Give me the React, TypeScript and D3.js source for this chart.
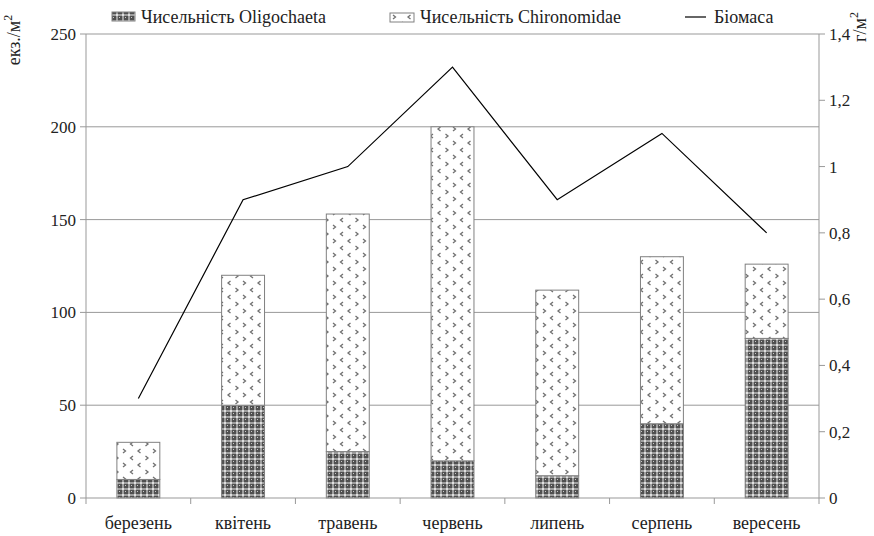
import React from "react";
import * as d3 from "d3";

const months = ["березень", "квітень", "травень", "червень", "липень", "серпень", "вересень"];
const oligochaeta = [10, 50, 25, 20, 12, 40, 86];
const chironomidae = [20, 70, 128, 180, 100, 90, 40];
const biomass = [0.3, 0.9, 1.0, 1.3, 0.9, 1.1, 0.8];
const leftTicks = [0, 50, 100, 150, 200, 250];
const rightTicks = [0, 0.2, 0.4, 0.6, 0.8, 1, 1.2, 1.4];

const W = 874, H = 536;
const M = { left: 86, right: 819, top: 34, bottom: 498 };
const FONT = "'Liberation Serif', Tinos, 'Times New Roman', Times, 'Nimbus Roman', FreeSerif, 'Noto Serif', 'DejaVu Serif', serif";
const ts: React.CSSProperties = { fontFamily: FONT, fontSize: 17 };
const ls: React.CSSProperties = { fontFamily: FONT, fontSize: 18 };

const chev = (x: number, y: number, right: boolean) =>
  right ? `M${x},${y - 2} L${x + 2.5},${y} L${x},${y + 2}` : `M${x + 2.5},${y - 2} L${x},${y} L${x + 2.5},${y + 2}`;

export default function App() {
  const x = d3.scaleBand<string>().domain(months).range([M.left, M.right]).paddingInner(0).paddingOuter(0);
  const y = d3.scaleLinear().domain([0, 250]).range([M.bottom, M.top]);
  const y2 = d3.scaleLinear().domain([0, 1.4]).range([M.bottom, M.top]);
  const bw = x.bandwidth() * 0.41;
  const line = d3.line<number>()
    .x((_, i) => (x(months[i]) as number) + x.bandwidth() / 2)
    .y((d) => y2(d));
  const fmt = (v: number) => (v === 0 || v === 1 ? String(v) : v.toFixed(1).replace(".", ","));

  return (
    <svg width={W} height={H} style={{ position: "absolute", left: 0, top: 0, fontFamily: FONT }}>
      <defs>
        <pattern id="olig" width="6" height="6" patternUnits="userSpaceOnUse">
          <rect width="6" height="6" fill="#505050" />
          <rect x="2" y="0" width="2" height="6" fill="#a0a0a0" />
          <rect x="0" y="2" width="6" height="2" fill="#a0a0a0" />
          <rect x="2" y="2" width="2" height="2" fill="#e0e0e0" />
          <rect x="5" y="5" width="1" height="1" fill="#c8c8c8" />
        </pattern>
        <pattern id="chir" width="30" height="14" patternUnits="userSpaceOnUse">
          <rect width="30" height="14" fill="#fff" />
          <g fill="none" stroke="#707070" strokeWidth="1.3">
            <path d={chev(3, 3, true)} />
            <path d={chev(18, 3, false)} />
            <path d={chev(10.5, 10, false)} />
            <path d={chev(25.5, 10, true)} />
          </g>
        </pattern>
      </defs>
      <rect width={W} height={H} fill="#fff" />
      {leftTicks.filter((t) => t > 0).map((t) => (
        <line key={t} x1={M.left} x2={M.right} y1={y(t)} y2={y(t)} stroke="#999" strokeWidth={1} />
      ))}
      {months.map((m, i) => {
        const cx = (x(m) as number) + x.bandwidth() / 2;
        const o = oligochaeta[i];
        const c = chironomidae[i];
        return (
          <g key={m}>
            <rect x={cx - bw / 2} y={y(o)} width={bw} height={y(0) - y(o)} fill="url(#olig)" stroke="#808080" strokeWidth={1} />
            <rect x={cx - bw / 2} y={y(o + c)} width={bw} height={y(o) - y(o + c)} fill="url(#chir)" stroke="#808080" strokeWidth={1} />
          </g>
        );
      })}
      <line x1={M.left} x2={M.left} y1={M.top} y2={M.bottom} stroke="#999" />
      <line x1={M.right} x2={M.right} y1={M.top} y2={M.bottom} stroke="#999" />
      <line x1={M.left} x2={M.right} y1={M.bottom} y2={M.bottom} stroke="#999" />
      {leftTicks.map((t) => (
        <g key={t}>
          <line x1={M.left - 6} x2={M.left} y1={y(t)} y2={y(t)} stroke="#999" />
          <text x={M.left - 10} y={y(t)} dy="0.35em" textAnchor="end" style={ts} fill="#222">{t}</text>
        </g>
      ))}
      {rightTicks.map((t) => (
        <g key={t}>
          <line x1={M.right} x2={M.right + 6} y1={y2(t)} y2={y2(t)} stroke="#999" />
          <text x={M.right + 10} y={y2(t)} dy="0.35em" textAnchor="start" style={ts} fill="#222">{fmt(t)}</text>
        </g>
      ))}
      {months.map((m, i) => (
        <line key={"t" + i} x1={x(m) as number} x2={x(m) as number} y1={M.bottom} y2={M.bottom + 6} stroke="#999" />
      ))}
      <line x1={M.right} x2={M.right} y1={M.bottom} y2={M.bottom + 6} stroke="#999" />
      {months.map((m) => (
        <text key={"l" + m} x={(x(m) as number) + x.bandwidth() / 2} y={529} textAnchor="middle" style={ls} fill="#222">{m}</text>
      ))}
      <path d={line(biomass) as string} fill="none" stroke="#000" strokeWidth={1.2} />
      <text transform="translate(20,40) rotate(-90)" textAnchor="middle" style={ls} fill="#222">
        екз./м<tspan dy="-8" style={{ fontSize: 12 }}>2</tspan>
      </text>
      <text transform="translate(866,27) rotate(-90)" textAnchor="middle" style={ls} fill="#222">
        г/м<tspan dy="-8" style={{ fontSize: 12 }}>2</tspan>
      </text>
      <rect x={112} y={12} width={23} height={9} fill="url(#olig)" stroke="#808080" />
      <text x={141} y={23} style={ls} fill="#222">Чисельність Oligochaeta</text>
      <rect x={390} y={13} width={24} height={9} fill="url(#chir)" stroke="#808080" />
      <text x={420} y={23} style={ls} fill="#222">Чисельність Chironomidae</text>
      <line x1={685} x2={706} y1={17} y2={17} stroke="#000" strokeWidth={1.2} />
      <text x={714} y={23} style={ls} fill="#222">Біомаса</text>
    </svg>
  );
}
